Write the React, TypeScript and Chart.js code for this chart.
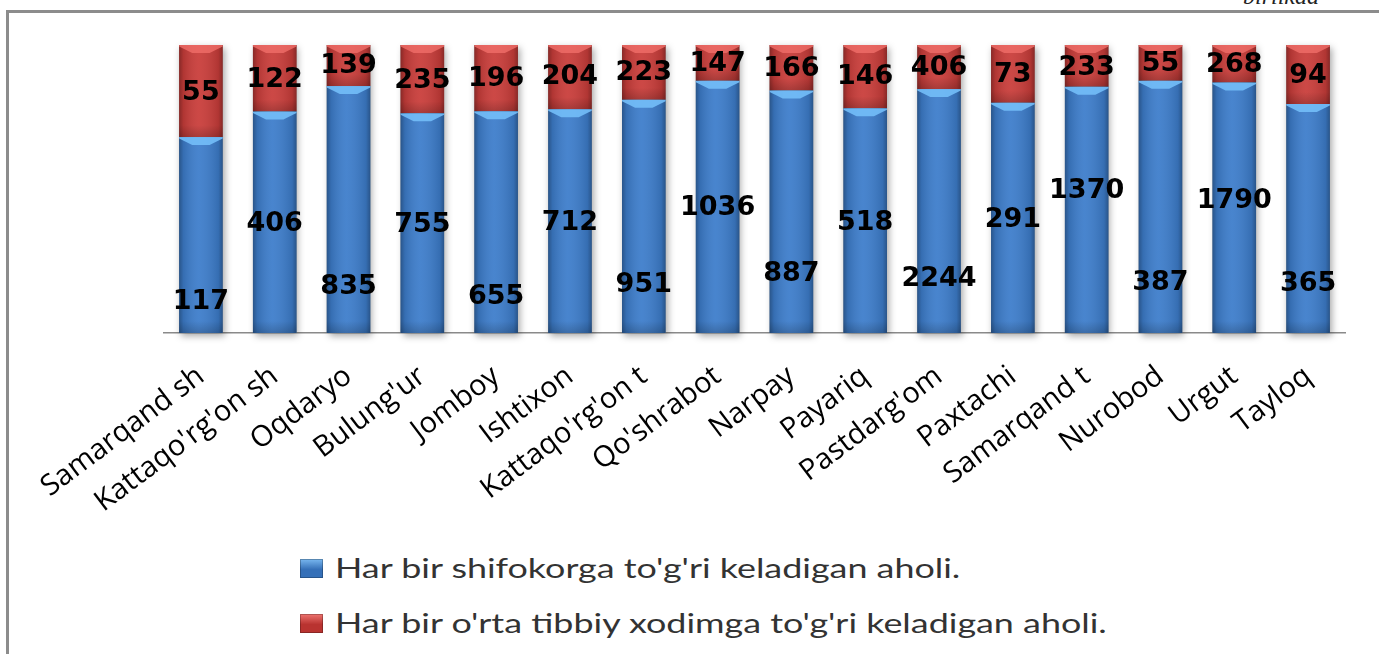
import React, { useEffect, useRef } from 'react';
import { Chart, registerables } from 'chart.js';

Chart.register(...registerables);

const categories = [
  "Samarqand sh", "Kattaqo'rg'on sh", "Oqdaryo", "Bulung'ur", "Jomboy", "Ishtixon",
  "Kattaqo'rg'on t", "Qo'shrabot", "Narpay", "Payariq", "Pastdarg'om", "Paxtachi",
  "Samarqand t", "Nurobod", "Urgut", "Tayloq",
];
const doctorValues = [117, 406, 835, 755, 655, 712, 951, 1036, 887, 518, 2244, 291, 1370, 387, 1790, 365];
const nurseValues = [55, 122, 139, 235, 196, 204, 223, 147, 166, 146, 406, 73, 233, 55, 268, 94];
const seriesNames = [
  "Har bir shifokorga to'g'ri keladigan aholi.",
  "Har bir o'rta tibbiy xodimga to'g'ri keladigan aholi.",
];
// where each value label sits, in percent of the bar height
const doctorLabelPct = [10.8, 37.8, 16.0, 37.5, 12.5, 38.2, 16.7, 43.4, 20.5, 38.2, 18.8, 39.2, 49.3, 17.4, 45.8, 17.0];
const nurseLabelPct = [83.3, 87.8, 92.7, 87.5, 88.2, 88.9, 90.3, 93.4, 91.7, 88.9, 92.0, 89.6, 92.0, 93.4, 93.1, 89.2];

const BLUE = '#3d7dcb';
const RED = '#c93d3a';
const TICK_FONT = '"Open Sans"';
const LEGEND_FONT = 'Lato';

const shadePlugin = {
  id: 'shade',
  beforeDatasetsDraw(chart: any) {
    const ctx = chart.ctx;
    const m0 = chart.getDatasetMeta(0);
    const m1 = chart.getDatasetMeta(1);
    ctx.save();
    m0.data.forEach((el: any, i: number) => {
      const top = m1.data[i].y;
      const left = el.x - el.width / 2;
      ctx.shadowColor = 'rgba(0,0,0,0.35)';
      ctx.shadowBlur = 7;
      ctx.shadowOffsetX = 2;
      ctx.shadowOffsetY = 3;
      ctx.fillStyle = '#888';
      ctx.fillRect(left, top, el.width, el.base - top);
    });
    ctx.restore();
  },
  afterDatasetsDraw(chart: any) {
    const ctx = chart.ctx;
    ctx.save();
    [0, 1].forEach((di) => {
      const meta = chart.getDatasetMeta(di);
      meta.data.forEach((el: any) => {
        const w = el.width;
        const left = el.x - w / 2;
        const right = el.x + w / 2;
        const top = Math.min(el.y, el.base);
        const bottom = Math.max(el.y, el.base);
        const g = ctx.createLinearGradient(left, 0, right, 0);
        g.addColorStop(0, 'rgba(0,0,0,0.32)');
        g.addColorStop(0.1, 'rgba(0,0,0,0.12)');
        g.addColorStop(0.45, 'rgba(255,255,255,0.06)');
        g.addColorStop(0.9, 'rgba(0,0,0,0.12)');
        g.addColorStop(1, 'rgba(0,0,0,0.32)');
        ctx.fillStyle = g;
        ctx.fillRect(left, top, w, bottom - top);
        const gb = ctx.createLinearGradient(0, bottom - 12, 0, bottom);
        gb.addColorStop(0, 'rgba(0,0,0,0)');
        gb.addColorStop(1, 'rgba(0,0,0,0.18)');
        ctx.fillStyle = gb;
        ctx.fillRect(left, bottom - 12, w, 12);
        ctx.beginPath();
        ctx.moveTo(left, top);
        ctx.lineTo(right, top);
        ctx.lineTo(right, top + 1.5);
        ctx.lineTo(el.x + w * 0.2, top + 8);
        ctx.lineTo(el.x - w * 0.2, top + 8);
        ctx.lineTo(left, top + 1.5);
        ctx.closePath();
        ctx.fillStyle = di === 0 ? 'rgba(115,190,248,0.9)' : 'rgba(240,110,105,0.8)';
        ctx.fill();
      });
    });
    ctx.restore();
  },
};

const labelPlugin = {
  id: 'valueLabels',
  afterDraw(chart: any) {
    const ctx = chart.ctx;
    const yScale = chart.scales.y;
    const sets = [
      { values: doctorValues, pos: doctorLabelPct },
      { values: nurseValues, pos: nurseLabelPct },
    ];
    ctx.save();
    ctx.font = 'bold 27px "DejaVu Sans"';
    ctx.fillStyle = '#000';
    ctx.textAlign = 'center';
    ctx.textBaseline = 'middle';
    sets.forEach((s, di) => {
      const meta = chart.getDatasetMeta(di);
      meta.data.forEach((el: any, i: number) => {
        ctx.fillText(String(s.values[i]), el.x, yScale.getPixelForValue(s.pos[i]));
      });
    });
    ctx.restore();
  },
};

export default function App() {
  const ref = useRef<HTMLCanvasElement>(null);
  useEffect(() => {
    document.body.style.margin = '0';
    const totals = doctorValues.map((v, i) => v + nurseValues[i]);
    const doctorPct = doctorValues.map((v, i) => (v / totals[i]) * 100);
    const nursePct = nurseValues.map((v, i) => (v / totals[i]) * 100);
    const chart = new Chart(ref.current as HTMLCanvasElement, {
      type: 'bar',
      data: {
        labels: categories,
        datasets: [
          { label: seriesNames[0], data: doctorPct, backgroundColor: BLUE, barPercentage: 0.59, categoryPercentage: 1 },
          { label: seriesNames[1], data: nursePct, backgroundColor: RED, barPercentage: 0.59, categoryPercentage: 1 },
        ],
      },
      options: {
        animation: false,
        responsive: false,
        maintainAspectRatio: false,
        layout: { padding: { left: 164, right: 34, top: 45, bottom: 0 } },
        plugins: { legend: { display: false }, tooltip: { enabled: false } },
        scales: {
          x: {
            stacked: true,
            grid: { display: false },
            border: { display: true, color: '#8a8a8a', width: 1.5 },
            ticks: {
              minRotation: 37,
              maxRotation: 37,
              autoSkip: false,
              padding: 18,
              color: '#000',
              font: { family: TICK_FONT, size: 29 },
            },
            afterFit: (scale: any) => { scale.height = 200; },
          },
          y: { stacked: true, min: 0, max: 100, display: false },
        },
      },
      plugins: [shadePlugin, labelPlugin],
    });
    return () => chart.destroy();
  }, []);

  const legendItem = (color: string, light: string, text: string, top: number) => (
    <div style={{ position: 'absolute', left: 300, top, display: 'flex', alignItems: 'center', height: 30 }}>
      <div style={{ width: 23, height: 19, flex: 'none', background: `linear-gradient(180deg, ${light} 0%, ${color} 55%)`, boxShadow: 'inset 0 0 0 1px rgba(0,0,0,0.25)' }} />
      <span style={{ marginLeft: 12, fontFamily: LEGEND_FONT, fontSize: 26, color: '#333', whiteSpace: 'nowrap', display: 'inline-block', transform: 'scaleX(1.38)', transformOrigin: 'left center' }}>{text}</span>
    </div>
  );

  return (
    <div style={{ position: 'absolute', left: 0, top: 0, width: 1379, height: 654, overflow: 'hidden', background: '#fff' }}>
      <div style={{ position: 'absolute', left: 1243, top: -17, fontFamily: '"Liberation Serif"', fontStyle: 'italic', fontSize: 24, color: '#222' }}>birlikda</div>
      <div style={{ position: 'absolute', left: 6, top: 10, width: 1500, height: 800, borderLeft: '3px solid #8c8c8c', borderTop: '3px solid #8c8c8c' }} />
      <canvas ref={ref} width={1379} height={533} style={{ position: 'absolute', left: 0, top: 0, width: 1379, height: 533 }} />
      {legendItem('#3570b8', '#79b8f0', seriesNames[0], 553)}
      {legendItem('#b93330', '#ee7470', seriesNames[1], 608)}
    </div>
  );
}
